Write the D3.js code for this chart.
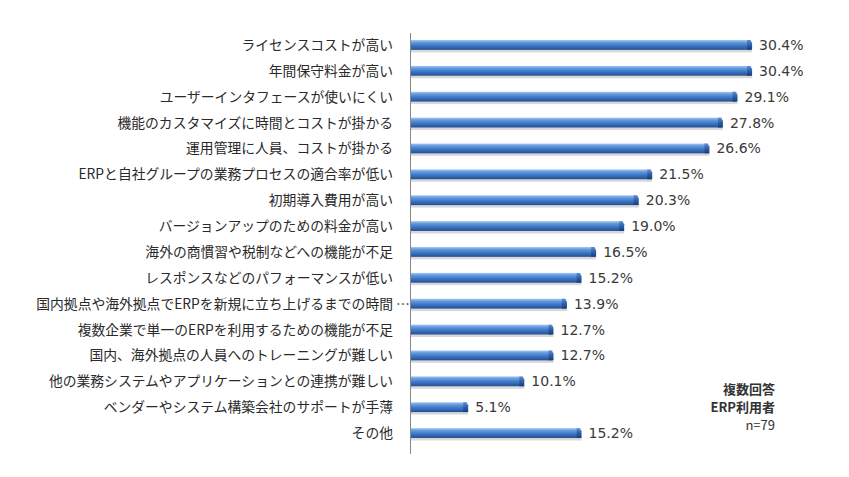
<!DOCTYPE html>
<html>
<head>
<meta charset="utf-8">
<script src="https://cdn.jsdelivr.net/npm/d3@7"></script>
<style>
  body { margin: 0; background: #fff; }
  svg { display: block; }
</style>
</head>
<body>
<svg id="chart"></svg>
<script>
// survey items (top to bottom) and share of respondents, %
const labels = [
    "ライセンスコストが高い",
    "年間保守料金が高い",
    "ユーザーインタフェースが使いにくい",
    "機能のカスタマイズに時間とコストが掛かる",
    "運用管理に人員、コストが掛かる",
    "ERPと自社グループの業務プロセスの適合率が低い",
    "初期導入費用が高い",
    "バージョンアップのための料金が高い",
    "海外の商慣習や税制などへの機能が不足",
    "レスポンスなどのパフォーマンスが低い",
    "国内拠点や海外拠点でERPを新規に立ち上げるまでの時間 …",
    "複数企業で単一のERPを利用するための機能が不足",
    "国内、海外拠点の人員へのトレーニングが難しい",
    "他の業務システムやアプリケーションとの連携が難しい",
    "ベンダーやシステム構築会社のサポートが手薄",
    "その他"
];
const values = [30.4, 30.4, 29.1, 27.8, 26.6, 21.5, 20.3, 19.0, 16.5, 15.2, 13.9, 12.7, 12.7, 10.1, 5.1, 15.2];
const notes = ["複数回答", "ERP利用者", "n=79"];

const width = 849, height = 477;
const svg = d3.select("#chart").attr("width", width).attr("height", height);

const data = labels.map((name, i) => ({ name, value: values[i] }));

const x = d3.scaleLinear().domain([0, 35]).range([410, 802.7]);
const y = d3.scaleBand().domain(labels).range([32, 446]).paddingInner(0.62).paddingOuter(0.31);

// cylinder-like gradient for the bars
const defs = svg.append("defs");
const grad = defs.append("linearGradient")
    .attr("id", "barGrad")
    .attr("x1", 0).attr("y1", 0).attr("x2", 0).attr("y2", 1);
grad.selectAll("stop")
    .data([
        [0, "#a4c8f2"],
        [0.25, "#619ade"],
        [0.55, "#4079c8"],
        [1, "#234f92"]
    ])
    .join("stop")
    .attr("offset", d => d[0])
    .attr("stop-color", d => d[1]);

const capGrad = defs.append("linearGradient")
    .attr("id", "capGrad")
    .attr("x1", 0).attr("y1", 0).attr("x2", 0).attr("y2", 1);
capGrad.selectAll("stop")
    .data([[0, "#5e8fd0"], [0.5, "#2f5fa8"], [1, "#173d78"]])
    .join("stop")
    .attr("offset", d => d[0])
    .attr("stop-color", d => d[1]);

const bh = y.bandwidth();

const bars = svg.append("g")
    .selectAll("g")
    .data(data)
    .join("g");

// soft shadow under each bar
bars.append("rect")
    .attr("x", x(0))
    .attr("y", d => y(d.name) + bh - 0.5)
    .attr("width", d => x(d.value) - x(0) + 1)
    .attr("height", 3)
    .attr("fill", "#c8c8c8")
    .attr("opacity", 0.7);

bars.append("rect")
    .attr("x", x(0))
    .attr("y", d => y(d.name))
    .attr("width", d => x(d.value) - x(0))
    .attr("height", bh)
    .attr("fill", "url(#barGrad)");

// bevelled end
bars.append("path")
    .attr("d", d => {
        const x1 = x(d.value), y0 = y(d.name);
        return `M${x1 - 4},${y0} L${x1 - 1},${y0} L${x1 + 1},${y0 + 3} L${x1 + 1},${y0 + bh} L${x1 - 4},${y0 + bh} Z`;
    })
    .attr("fill", "url(#capGrad)");

// value labels
bars.append("text")
    .attr("x", d => x(d.value) + 8)
    .attr("y", d => y(d.name) + bh / 2)
    .attr("dy", "0.36em")
    .attr("font-family", "'DejaVu Sans', Verdana, sans-serif")
    .attr("font-size", 14)
    .attr("fill", "#3a3a3a")
    .text(d => d.value.toFixed(1) + "%");

// category labels, the truncated one keeps its ellipsis past the edge
const cat = svg.append("g")
    .attr("font-family", "'Noto Sans CJK JP', sans-serif")
    .attr("font-size", 13.8)
    .attr("fill", "#2a2a2a");

cat.selectAll("text.name")
    .data(data)
    .join("text")
    .attr("class", "name")
    .attr("x", 393)
    .attr("y", d => y(d.name) + bh / 2)
    .attr("dy", "0.36em")
    .attr("text-anchor", "end")
    .text(d => d.name.replace(/\s*…$/, ""));

cat.selectAll("text.more")
    .data(data.filter(d => d.name.endsWith("…")))
    .join("text")
    .attr("class", "more")
    .attr("x", 396)
    .attr("y", d => y(d.name) + bh / 2)
    .attr("dy", "0.36em")
    .text("…");

// axis line
svg.append("line")
    .attr("x1", x(0) + 0.5).attr("x2", x(0) + 0.5)
    .attr("y1", 33).attr("y2", 454)
    .attr("stroke", "#888")
    .attr("stroke-width", 1);

// respondent note
svg.append("g")
    .attr("font-family", "'Noto Sans CJK JP', sans-serif")
    .attr("font-size", 13)
    .attr("fill", "#333")
    .attr("text-anchor", "end")
    .selectAll("text")
    .data(notes)
    .join("text")
    .attr("x", 775)
    .attr("y", (d, i) => 389 + i * 18)
    .attr("dy", "0.36em")
    .attr("font-weight", (d, i) => i < 2 ? "bold" : null)
    .text(d => d);
</script>
</body>
</html>
